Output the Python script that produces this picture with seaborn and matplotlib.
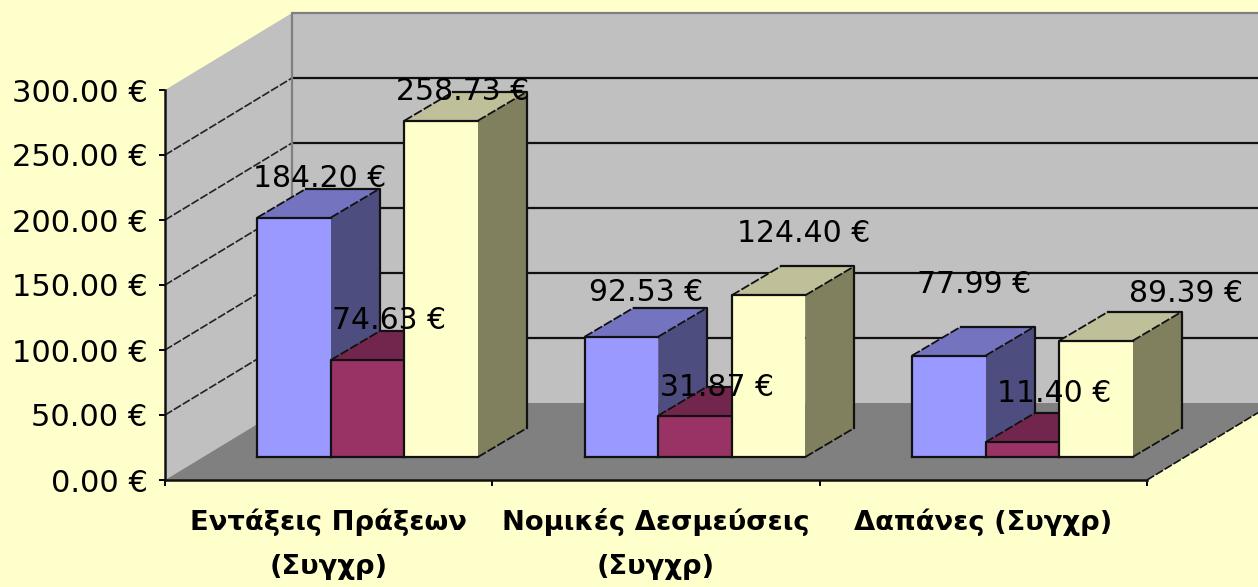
import pandas as pd
import seaborn as sns
import matplotlib.pyplot as plt
from matplotlib.patches import Polygon

# Chart values
categories = ["Εντάξεις Πράξεων\n(Συγχρ)", "Νομικές Δεσμεύσεις\n(Συγχρ)", "Δαπάνες (Συγχρ)"]
series_names = ["A", "B", "C"]
series_a = [184.20, 92.53, 77.99]
series_b = [74.63, 31.87, 11.40]
series_c = [258.73, 124.40, 89.39]
y_ticks = [0, 50, 100, 150, 200, 250, 300]

# Colours per series: front, top, side
front_colors = ["#9999FF", "#993366", "#FFFFCC"]
top_colors = ["#7373BF", "#73264D", "#BFBF99"]
side_colors = ["#4D4D80", "#4D1A33", "#80805F"]

# Label offsets from the middle of each bar top, in pixels
label_offsets = [
    [(25, 39), (25, 44), (25, 71)],
    [(21, 39), (22, 28), (32, 49)],
    [(21, 29), (35, 62), (90, 47)],
]

W, H = 1258, 587
BG = "#FFFFCC"

sns.set_theme(style="white")
plt.rcParams["font.family"] = ["DejaVu Sans"]

df = pd.DataFrame({
    "category": categories * 3,
    "series": [s for s in series_names for _ in categories],
    "value": series_a + series_b + series_c,
})

fig = plt.figure(figsize=(W / 100, H / 100), dpi=100, facecolor=BG)

# Back axes holds the walls, floor, ticks; front axes holds the bars
back = fig.add_axes([165 / W, 107 / H, 982 / W, 390 / H], facecolor="none")
front = fig.add_axes([204 / W, 130 / H, 982 / W, 390 / H], facecolor="none")

# Depth of the chart box and of each bar, in data units
box_dx, box_dy = 127 / (982 / 3), 77 / 1.3
bar_dx, bar_dy = 49 / (982 / 3), 29 / 1.3
diag = (0, (5, 1.2))

back.set_xlim(-0.5, 2.5)
back.set_ylim(0, 300)
x0, x1 = -0.5, 2.5
wall_kw = dict(clip_on=False, linewidth=0)
back.add_patch(Polygon([(x0, 0), (x0 + box_dx, box_dy), (x0 + box_dx, 300 + box_dy), (x0, 300)],
                       facecolor="#C0C0C0", **wall_kw))
back.add_patch(Polygon([(x0 + box_dx, box_dy), (x1 + box_dx, box_dy), (x1 + box_dx, 300 + box_dy), (x0 + box_dx, 300 + box_dy)],
                       facecolor="#C0C0C0", **wall_kw))
back.add_patch(Polygon([(x0, 0), (x0 + box_dx, box_dy), (x1 + box_dx, box_dy), (x1, 0)],
                       facecolor="#808080", **wall_kw))

# Gridlines on both walls
for v in y_ticks[1:-1]:
    back.plot([x0 + box_dx, x1 + box_dx], [v + box_dy, v + box_dy], color="#111111", lw=1.6, clip_on=False)
    back.plot([x0, x0 + box_dx], [v, v + box_dy], color="#222222", lw=1.2, ls=diag, clip_on=False)
back.plot([x0 + box_dx, x0 + box_dx], [box_dy, 300 + box_dy], color="#808080", lw=1.6, clip_on=False)
back.plot([x0 + box_dx, x1 + box_dx], [300 + box_dy, 300 + box_dy], color="#808080", lw=1.6, clip_on=False)
back.plot([x1, x1 + box_dx], [0, box_dy], color="#111111", lw=1.2, ls=diag, clip_on=False)

back.set_yticks(y_ticks, labels=[f"{v:.2f} €" for v in y_ticks])
back.set_xticks(range(3), labels=categories)
back.set_xticks([-0.5, 0.5, 1.5, 2.5], minor=True)
back.tick_params(axis="y", length=4.5, width=1.4, color="black", pad=8, labelsize=22, labelcolor="black", left=True)
back.tick_params(axis="x", which="major", length=0, pad=20.5, labelsize=19.7, labelcolor="black")
back.tick_params(axis="x", which="minor", length=4.5, width=1.4, color="black", bottom=True)
for lab in back.get_xticklabels():
    lab.set_linespacing(1.9)
    lab.set_fontweight("bold")
for name in ["top", "right"]:
    back.spines[name].set_visible(False)
for name in ["left", "bottom"]:
    back.spines[name].set_color("#111111")
    back.spines[name].set_linewidth(1.8)
    back.spines[name].set_zorder(5)

sns.barplot(data=df, x="category", y="value", hue="series", hue_order=series_names,
            palette=front_colors, saturation=1, width=0.674, gap=0, linewidth=0,
            legend=False, ax=front)
front.set_xlim(-0.5, 2.5)
front.set_ylim(0, 300)
front.axis("off")

for i, container in enumerate(front.containers):
    z = 3 + i * 3
    for j, bar in enumerate(container):
        l, r = bar.get_x(), bar.get_x() + bar.get_width()
        t = bar.get_height()
        bar.set_zorder(z + 1)
        front.add_patch(Polygon([(r, 0), (r + bar_dx, bar_dy), (r + bar_dx, t + bar_dy), (r, t)],
                                facecolor=side_colors[i], linewidth=0, zorder=z, clip_on=False))
        front.add_patch(Polygon([(l, t), (l + bar_dx, t + bar_dy), (r + bar_dx, t + bar_dy), (r, t)],
                                facecolor=top_colors[i], linewidth=0, zorder=z, clip_on=False))
        # Outlines: solid on the square edges, broken on the diagonals
        solid = dict(color="#111111", lw=1.6, zorder=z + 2, clip_on=False, solid_capstyle="projecting")
        dashed = dict(color="#111111", lw=1.3, ls=diag, zorder=z + 2, clip_on=False)
        front.plot([l, l, r], [0, t, t], **solid)
        front.plot([l, r], [0, 0], **solid)
        front.plot([l + bar_dx, r + bar_dx, r + bar_dx], [t + bar_dy, t + bar_dy, bar_dy], **solid)
        front.plot([l, l + bar_dx], [t, t + bar_dy], **dashed)
        front.plot([r, r + bar_dx], [t, t + bar_dy], **dashed)
        front.plot([r, r + bar_dx], [0, bar_dy], **dashed)
        front.annotate(f"{t:.2f} €", xy=((l + r) / 2, t), xytext=label_offsets[i][j],
                       textcoords="offset pixels", ha="center", va="center",
                       fontsize=21.5, color="black", zorder=30, annotation_clip=False)

fig.savefig("out.png", dpi=100, facecolor=BG)
